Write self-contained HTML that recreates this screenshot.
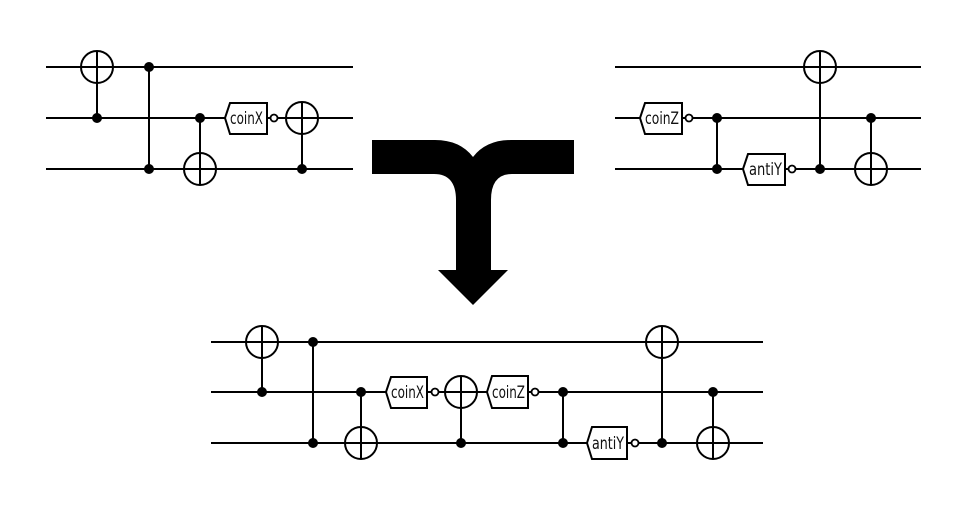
<!DOCTYPE html>
<html><head><meta charset="utf-8"><style>
html,body{margin:0;padding:0;background:#fff;width:969px;height:520px;overflow:hidden}
svg text{font-family:"DejaVu Sans","Liberation Sans",sans-serif;font-size:17px;fill:#111}
</style></head><body>
<svg width="969" height="520" viewBox="0 0 969 520" xmlns="http://www.w3.org/2000/svg">
<g stroke="#000" stroke-width="2" fill="none">
<line x1="46" y1="67" x2="353" y2="67"/><line x1="46" y1="118" x2="353" y2="118"/><line x1="46" y1="169" x2="353" y2="169"/>
<line x1="97" y1="67" x2="97" y2="118"/><circle cx="97" cy="67" r="16" fill="#fff"/><line x1="81" y1="67" x2="113" y2="67"/><line x1="97" y1="51" x2="97" y2="83"/>
<line x1="149" y1="67" x2="149" y2="169"/>
<line x1="200" y1="118" x2="200" y2="169"/><circle cx="200" cy="169" r="16" fill="#fff"/><line x1="184" y1="169" x2="216" y2="169"/><line x1="200" y1="153" x2="200" y2="185"/>
<polygon points="225,118 230,103 267,103 267,134 230,134" fill="#fff"/>
<circle cx="274" cy="118" r="3.5" fill="#fff" stroke-width="1.8"/>
<line x1="302" y1="118" x2="302" y2="169"/><circle cx="302" cy="118" r="16" fill="#fff"/><line x1="286" y1="118" x2="318" y2="118"/><line x1="302" y1="102" x2="302" y2="134"/>
<line x1="615" y1="67" x2="921" y2="67"/><line x1="615" y1="118" x2="921" y2="118"/><line x1="615" y1="169" x2="921" y2="169"/>
<polygon points="640,118 645,103 682,103 682,134 645,134" fill="#fff"/>
<circle cx="689" cy="118" r="3.5" fill="#fff" stroke-width="1.8"/>
<line x1="717" y1="118" x2="717" y2="169"/>
<polygon points="743,169 748,154 785,154 785,185 748,185" fill="#fff"/>
<circle cx="792" cy="169" r="3.5" fill="#fff" stroke-width="1.8"/>
<line x1="820" y1="67" x2="820" y2="169"/><circle cx="820" cy="67" r="16" fill="#fff"/><line x1="804" y1="67" x2="836" y2="67"/><line x1="820" y1="51" x2="820" y2="83"/>
<line x1="871" y1="118" x2="871" y2="169"/><circle cx="871" cy="169" r="16" fill="#fff"/><line x1="855" y1="169" x2="887" y2="169"/><line x1="871" y1="153" x2="871" y2="185"/>
<line x1="211" y1="342" x2="763" y2="342"/><line x1="211" y1="392" x2="763" y2="392"/><line x1="211" y1="443" x2="763" y2="443"/>
<line x1="262" y1="342" x2="262" y2="392"/><circle cx="262" cy="342" r="16" fill="#fff"/><line x1="246" y1="342" x2="278" y2="342"/><line x1="262" y1="326" x2="262" y2="358"/>
<line x1="313" y1="342" x2="313" y2="443"/>
<line x1="361" y1="392" x2="361" y2="443"/><circle cx="361" cy="443" r="16" fill="#fff"/><line x1="345" y1="443" x2="377" y2="443"/><line x1="361" y1="427" x2="361" y2="459"/>
<polygon points="386,392 391,377 427,377 427,408 391,408" fill="#fff"/>
<circle cx="435" cy="392" r="3.5" fill="#fff" stroke-width="1.8"/>
<line x1="461" y1="392" x2="461" y2="443"/><circle cx="461" cy="392" r="16" fill="#fff"/><line x1="445" y1="392" x2="477" y2="392"/><line x1="461" y1="376" x2="461" y2="408"/>
<polygon points="487,392 492,376 528,376 528,408 492,408" fill="#fff"/>
<circle cx="535" cy="392" r="3.5" fill="#fff" stroke-width="1.8"/>
<line x1="563" y1="392" x2="563" y2="443"/>
<polygon points="587,443 592,427 627,427 627,459 592,459" fill="#fff"/>
<circle cx="635" cy="443" r="3.5" fill="#fff" stroke-width="1.8"/>
<line x1="662" y1="342" x2="662" y2="443"/><circle cx="662" cy="342" r="16" fill="#fff"/><line x1="646" y1="342" x2="678" y2="342"/><line x1="662" y1="326" x2="662" y2="358"/>
<line x1="713" y1="392" x2="713" y2="443"/><circle cx="713" cy="443" r="16" fill="#fff"/><line x1="697" y1="443" x2="729" y2="443"/><line x1="713" y1="427" x2="713" y2="459"/>
</g>
<g fill="#000">
<circle cx="97" cy="118" r="5"/><circle cx="149" cy="67" r="5"/><circle cx="149" cy="169" r="5"/><circle cx="200" cy="118" r="5"/><circle cx="302" cy="169" r="5"/>
<circle cx="717" cy="118" r="5"/><circle cx="717" cy="169" r="5"/><circle cx="820" cy="169" r="5"/><circle cx="871" cy="118" r="5"/>
<circle cx="262" cy="392" r="5"/><circle cx="313" cy="342" r="5"/><circle cx="313" cy="443" r="5"/><circle cx="361" cy="392" r="5"/><circle cx="461" cy="443" r="5"/>
<circle cx="563" cy="392" r="5"/><circle cx="563" cy="443" r="5"/><circle cx="662" cy="443" r="5"/><circle cx="713" cy="392" r="5"/>
<path d="M372,140 L435,140 Q460,140 473,157 Q486,140 511,140 L574,140 L574,174 L512,174 Q491,174 491,200 L491,270 L508,270 L473,305 L438,270 L456,270 L456,200 Q456,174 434,174 L372,174 Z"/>
</g>
<g>
<text x="230" y="124" textLength="33" lengthAdjust="spacingAndGlyphs">coinX</text>
<text x="645" y="124" textLength="34" lengthAdjust="spacingAndGlyphs">coinZ</text>
<text x="749" y="175" textLength="33" lengthAdjust="spacingAndGlyphs">antiY</text>
<text x="391" y="398" textLength="33" lengthAdjust="spacingAndGlyphs">coinX</text>
<text x="492" y="398" textLength="33" lengthAdjust="spacingAndGlyphs">coinZ</text>
<text x="592" y="449" textLength="32" lengthAdjust="spacingAndGlyphs">antiY</text>
</g>
</svg>
</body></html>
